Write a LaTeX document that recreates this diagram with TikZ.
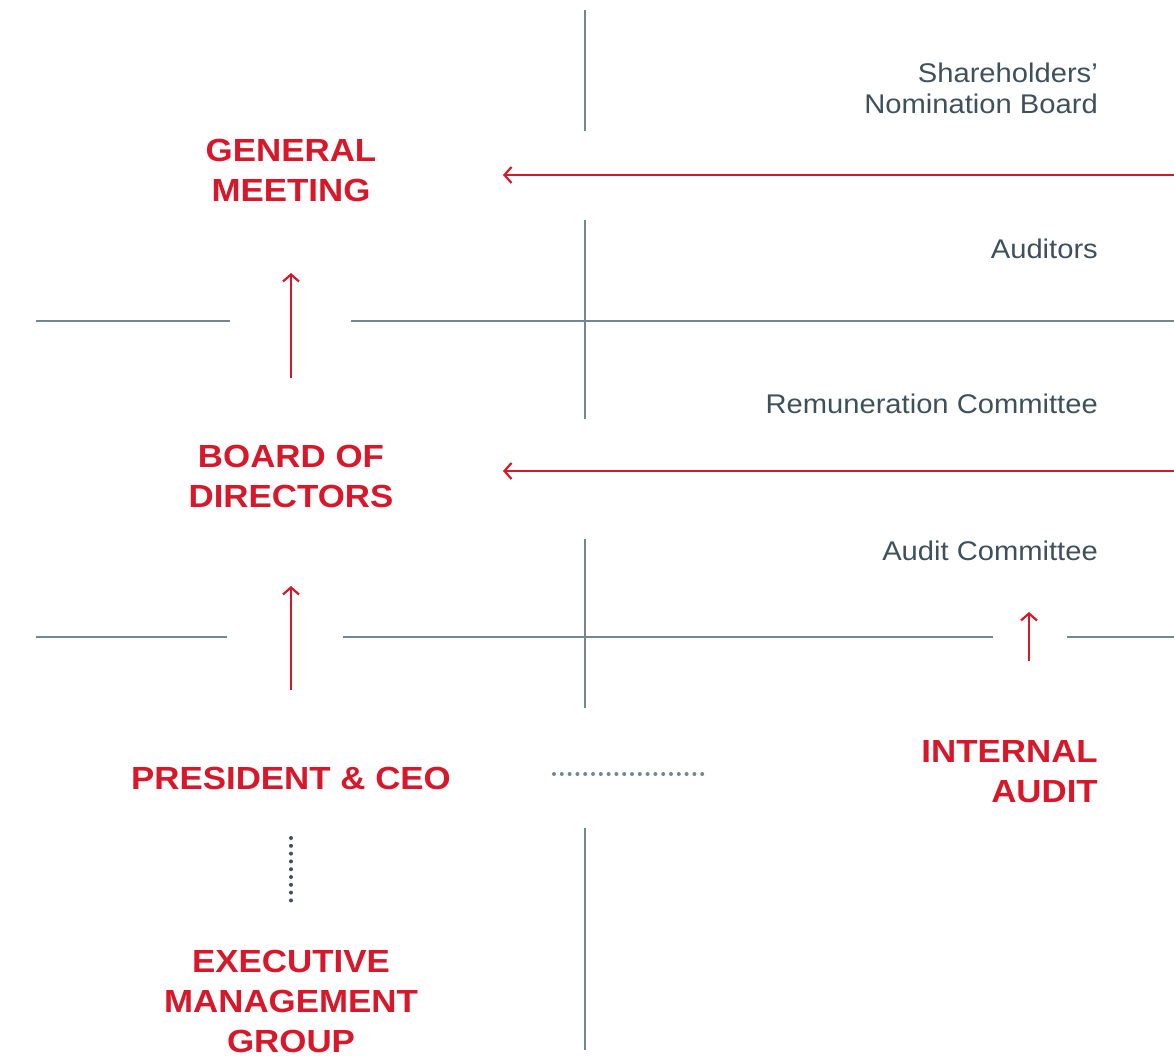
\documentclass[tikz,border=0pt]{standalone}
\usepackage{fontspec}
\setmainfont{Liberation Sans}
\newfontfamily\widebold[FakeStretch=1.09]{Liberation Sans Bold}
\newfontfamily\widesans[FakeStretch=1.08]{Liberation Sans}
\usetikzlibrary{arrows.meta}
\definecolor{govred}{HTML}{D7182A}
\definecolor{govline}{HTML}{738793}
\definecolor{govtext}{HTML}{3E505B}

\begin{document}
\begin{tikzpicture}[
    x=1pt, y=-1pt,
    body/.style={font=\widebold\fontsize{32}{40}\selectfont, color=govred, align=center, inner sep=0pt},
    side/.style={font=\widesans\fontsize{27}{31}\selectfont, color=govtext, align=right, inner sep=0pt, anchor=east},
    rule/.style={draw=govline, line width=1.8pt},
    arr/.style={draw=govred, line width=2.2pt, -{Straight Barb[length=7pt, width=16pt, line width=2.2pt]}},
    dots/.style={draw=#1, line width=4pt, line cap=round, dash pattern=on 0pt off 7.8pt}
]
\useasboundingbox (0,0) rectangle (1174,1059);
% Dimensions
\def\L{291}  % left column
\def\M{585}  % middle rule
\def\R{1098} % right text edge

% Bodies
\node[body] (gm) at (\L,170) {GENERAL\\MEETING};
\node[body] (bod) at (\L,476) {BOARD OF\\DIRECTORS};
\node[body] (ceo) at (\L,778) {PRESIDENT \& CEO};
\node[body] (emg) at (\L,1001) {EXECUTIVE\\MANAGEMENT\\GROUP};
\node[body, align=right, anchor=east] (ia) at (\R,772) {INTERNAL\\AUDIT};

% Side bodies
\node[side] (snb) at (\R,88) {Shareholders’\\Nomination Board};
\node[side] (aud) at (\R,249) {Auditors};
\node[side] (rem) at (\R,404) {Remuneration Committee};
\node[side] (ac) at (\R,551) {Audit Committee};

% Rules
\draw[rule] (\M,10) -- (\M,131);
\draw[rule] (\M,220) -- (\M,419);
\draw[rule] (\M,539) -- (\M,708);
\draw[rule] (\M,828) -- (\M,1050);
\draw[rule] (36,321) -- (230,321);
\draw[rule] (351,321) -- (1174,321);
\draw[rule] (36,637) -- (227,637);
\draw[rule] (343,637) -- (993,637);
\draw[rule] (1067,637) -- (1174,637);

% Reporting arrows
\coordinate (snbin) at (1174,175);
\coordinate (gmin) at (503,175);
\coordinate (remin) at (1174,471);
\coordinate (bodin) at (503,471);
\draw[arr] (snbin) -- (gmin);
\draw[arr] (remin) -- (bodin);
\draw[arr] (\L,378) -- (\L,273);
\draw[arr] (\L,690) -- (\L,586);
\draw[arr] (1029,661) -- (1029,612);

% Dotted links
\draw[dots=govline] (554,774) -- (706,774);
\draw[dots=govtext] (\L,838) -- (\L,906);

\end{tikzpicture}
\end{document}
